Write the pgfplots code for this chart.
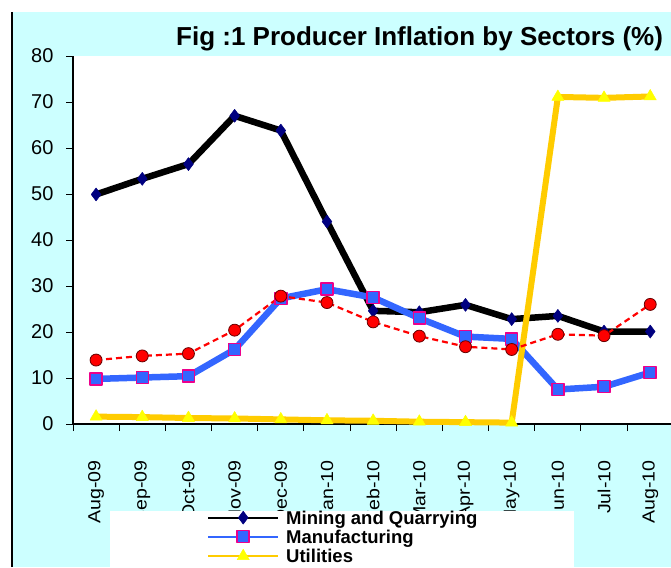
\documentclass[border=0pt]{standalone}
\usepackage{fontspec}
\setmainfont{Liberation Sans}
\usepackage{pgfplots}
\pgfplotsset{compat=1.18}
\definecolor{bgcyan}{HTML}{CCFFFF}
\definecolor{navy}{HTML}{000080}
\definecolor{manblue}{HTML}{3366FF}
\definecolor{utilorange}{HTML}{FFCC00}
\definecolor{tri}{HTML}{FFFF00}
\newcommand{\xl}[1]{\scalebox{1.12}[1]{#1}}
\begin{document}
\begin{tikzpicture}[x=1pt,y=1pt]
\useasboundingbox (-73,-143) rectangle (598,424);
\fill[white] (-73,-143) rectangle (598,424);
\fill[bgcyan] (-61,-143) rectangle (598,412);
\draw[black, line width=1.2pt] (-61,-143) -- (-61,412);
\begin{axis}[
  at={(0,0)}, anchor=south west,
  scale only axis, width=598pt, height=368pt,
  xmin=-0.5, xmax=12.45, ymin=0, ymax=80,
  clip=false,
  axis background/.style={fill=white},
  axis x line*=bottom, axis y line*=left,
  axis line style={-, line width=1.2pt, black},
  xtick={0,...,12},
  xticklabels={\xl{Aug-09},\xl{Sep-09},\xl{Oct-09},\xl{Nov-09},\xl{Dec-09},\xl{Jan-10},\xl{Feb-10},\xl{Mar-10},\xl{Apr-10},\xl{May-10},\xl{Jun-10},\xl{Jul-10},\xl{Aug-10}},
  minor xtick={-0.5,0.5,...,11.5},
  ytick={0,10,...,80},
  minor ytick={0,10,...,80},
  major tick length=0pt, minor tick length=7pt,
  tick align=outside,
  tick style={black, line width=1pt},
  xticklabel style={rotate=90, anchor=east, font=\fontsize{17.5}{17.5}\selectfont},
  xticklabel shift=33pt,
  yticklabel style={font=\fontsize{20}{20}\selectfont},
  yticklabel shift=16pt,
  /pgf/number format/assume math mode=true,
  title={Fig :1 Producer Inflation by Sectors (\%)},
  title style={at={(0.987,1.011)}, anchor=base east, yshift=0pt, font=\bfseries\fontsize{26}{26}\selectfont, inner sep=0pt},
  legend style={at={(0.0619,-0.2364)}, anchor=north west, draw=none, fill=white, inner xsep=97pt, inner ysep=0pt, row sep=2pt, column sep=7pt, font=\bfseries\fontsize{18.5}{18.5}\selectfont, nodes={inner xsep=0pt, inner ysep=0pt, text height=13pt, text depth=4pt}},
  legend cell align=left,
  legend image code/.code={\draw[mark repeat=2,mark phase=2,#1,line width=2pt] plot coordinates {(0pt,2pt) (35pt,2pt) (70pt,2pt)};},
]
\addplot[black, line width=6.5pt, line join=round, mark=diamond*, mark size=6.5pt, mark options={fill=navy, draw=navy, line width=0.5pt}] coordinates {
(0,49.9) (1,53.3) (2,56.5) (3,67.0) (4,63.8) (5,44.0) (6,24.6) (7,24.3) (8,25.9) (9,22.8) (10,23.5) (11,20.1) (12,20.1)};
\addlegendentry{Mining and Quarrying}
\addplot[manblue, line width=6.5pt, line join=round, mark=square*, mark size=6pt, mark options={fill=manblue, draw=magenta, line width=1.5pt}] coordinates {
(0,9.8) (1,10.1) (2,10.4) (3,16.2) (4,27.3) (5,29.3) (6,27.5) (7,23.0) (8,19.0) (9,18.5) (10,7.5) (11,8.1) (12,11.2)};
\addlegendentry{Manufacturing}
\addplot[utilorange, line width=6pt, line join=round, mark=triangle*, mark size=7pt, mark options={fill=tri, draw=tri, line width=0.5pt}] coordinates {
(0,1.6) (1,1.5) (2,1.3) (3,1.2) (4,1.0) (5,0.8) (6,0.7) (7,0.5) (8,0.4) (9,0.3) (10,71.1) (11,70.9) (12,71.2)};
\addlegendentry{Utilities}
\addplot[red, line width=2.2pt, dash pattern=on 6pt off 4pt, mark=*, mark size=6pt, mark options={solid, fill=red, draw=black!60!red, line width=0.8pt}, forget plot] coordinates {
(0,13.9) (1,14.8) (2,15.3) (3,20.4) (4,27.8) (5,26.4) (6,22.2) (7,19.1) (8,16.8) (9,16.2) (10,19.5) (11,19.2) (12,26.0)};
\end{axis}
\end{tikzpicture}
\end{document}
